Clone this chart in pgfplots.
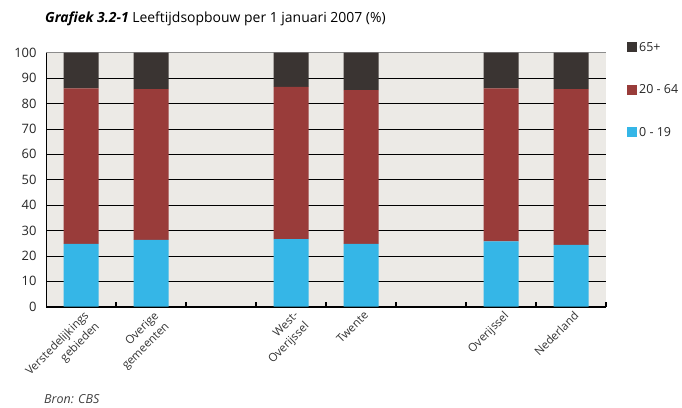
\documentclass[border=0pt]{standalone}
\usepackage{fontspec}
\setmainfont{Open Sans}
\usepackage{pgfplots}
\pgfplotsset{compat=1.18}
\definecolor{cblue}{HTML}{35B6E7}
\definecolor{cred}{HTML}{993C3A}
\definecolor{cdark}{HTML}{3A3432}
\definecolor{cbg}{HTML}{ECEAE6}
\begin{document}
\begin{tikzpicture}[x=1bp,y=1bp]
\useasboundingbox (0,0) rectangle (682,407);
\node[anchor=base west, inner sep=0, font=\fontsize{14}{16}\selectfont] at (45,385) {\textbf{\textit{Grafiek 3.2-1}} Leeftijdsopbouw per 1 januari 2007 (\%)};
\node[anchor=base west, inner sep=0, font=\fontsize{12.5}{14}\selectfont\itshape, text=black!75] at (44,4) {Bron: CBS};
\begin{axis}[
  at={(46bp,100.3bp)}, anchor=south west,
  scale only axis, width=560bp, height=254bp,
  ybar stacked, bar width=0.5,
  xmin=-0.5, xmax=7.5, ymin=0, ymax=100,
  axis background/.style={fill=cbg},
  axis x line*=bottom, axis y line*=left,
  axis line style={black, line width=0.9pt},
  x axis line style={line width=1.6pt, -},
  y axis line style={-},
  xtick={0,1,3,4,6,7},
  xticklabels={{Verstedelijkings\\gebieden},{Overige\\gemeenten},{West-\\Overijssel},Twente,Overijssel,Nederland},
  major x tick style={draw=none},
  minor xtick={0.5,1.5,2.5,3.5,4.5,5.5,6.5,7.5},
  minor x tick style={black, line width=1.4pt},
  minor tick length=5bp,
  tick align=inside,
  xticklabel style={rotate=45, anchor=north east, align=right, font=\fontsize{11.5}{15}\selectfont, text=black!80, inner sep=1pt, yshift=-3bp},
  ytick={0,10,...,100},
  major y tick style={draw=none},
  yticklabel style={font=\fontsize{13}{15}\selectfont, text=black!85, xshift=-6bp},
  /pgf/number format/assume math mode=true,
  ymajorgrids,
  grid style={black, line width=0.6pt},
  extra y ticks={100},
  extra y tick labels={},
  extra y tick style={grid style={black!45, line width=0.6pt}},
  reverse legend,
  legend style={at={(1.0375,1.05)}, anchor=north west, draw=none, fill=none, inner sep=0pt,
    font=\fontsize{12.5}{14}\selectfont, text=black!85, row sep=28bp, legend cell align=left},
  legend image code/.code={\fill[#1] (0bp,-5bp) rectangle (10bp,5bp);},
  clip=false,
]
\addplot[fill=cblue, draw=none] coordinates {(0,24.7) (1,26.3) (3,26.6) (4,24.7) (6,25.7) (7,24.3)};
\addplot[fill=cred, draw=none] coordinates {(0,61.3) (1,59.4) (3,59.9) (4,60.6) (6,60.3) (7,61.4)};
\addplot[fill=cdark, draw=none] coordinates {(0,14.0) (1,14.3) (3,13.5) (4,14.7) (6,14.0) (7,14.3)};
\legend{0 - 19, 20 - 64, 65+}
\end{axis}
\end{tikzpicture}
\end{document}
